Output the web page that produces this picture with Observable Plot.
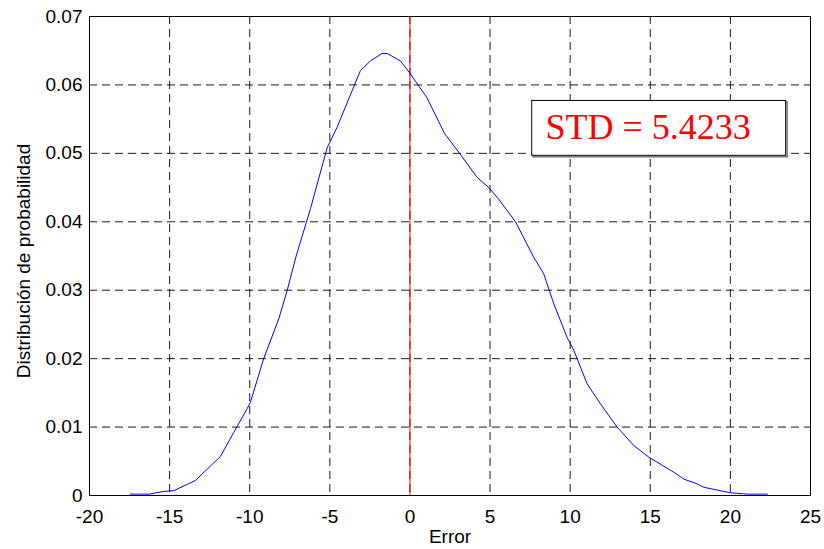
<!DOCTYPE html>
<html>
<head>
<meta charset="utf-8">
<script src="https://cdn.jsdelivr.net/npm/d3@7"></script>
<script src="https://cdn.jsdelivr.net/npm/@observablehq/plot@0.6"></script>
<style>
  html, body { margin: 0; padding: 0; background: white; }
</style>
</head>
<body>
<div id="chart"></div>
<script>
// Error values (x) and probability density (y)
const errorValues = [-17.45, -16.26, -15.37, -14.74, -13.39, -11.83, -11.0, -10.16, -9.96, -9.13, -8.19, -7.67, -7.1, -6.21, -5.17, -4.55, -3.09, -2.47, -1.74, -1.42, -0.59, 0.03, 1.07, 2.16, 3.1, 4.19, 4.92, 5.54, 6.59, 7.73, 8.35, 8.98, 9.81, 10.23, 11.06, 11.89, 12.93, 13.97, 14.91, 16.47, 17.09, 17.93, 18.34, 20.0, 21.05, 22.3];
const density = [0.0002, 0.0002, 0.0006, 0.0007, 0.0022, 0.0057, 0.0092, 0.0127, 0.0136, 0.0200, 0.0258, 0.0299, 0.0350, 0.0419, 0.0508, 0.0538, 0.0621, 0.0635, 0.0646, 0.0646, 0.0635, 0.0616, 0.0581, 0.0529, 0.0500, 0.0465, 0.0450, 0.0433, 0.0400, 0.0348, 0.0324, 0.0280, 0.0231, 0.0212, 0.0163, 0.0134, 0.0100, 0.0073, 0.0056, 0.0034, 0.0024, 0.0017, 0.0012, 0.0004, 0.0002, 0.0002];

const xTicks = [-20, -15, -10, -5, 0, 5, 10, 15, 20, 25];
const yTicks = [0, 0.01, 0.02, 0.03, 0.04, 0.05, 0.06, 0.07];

const referenceError = [0];
const annotationText = ["STD = 5.4233"];
const annotationBox = [{x1: 7.63, x2: 23.48, y1: 0.04964, y2: 0.05766}];
const annotationAnchor = [{x: 8.46, y: 0.0538}];

const xLabel = "Error";
const yLabel = "Distribución de probabilidad";

const data = errorValues.map((x, i) => ({x, y: density[i]}));

const chart = Plot.plot({
  width: 824,
  height: 549,
  marginLeft: 89,
  marginRight: 14,
  marginTop: 16,
  marginBottom: 54,
  style: {fontFamily: "'Liberation Sans', Arial, sans-serif", fontSize: "19px", background: "white", color: "black"},
  x: {domain: [-20, 25]},
  y: {domain: [0, 0.07]},
  marks: [
    Plot.gridX(xTicks.slice(1, -1), {stroke: "#000", strokeOpacity: 0.9, strokeDasharray: "8,5"}),
    Plot.gridY(yTicks.slice(1, -1), {stroke: "#000", strokeOpacity: 0.9, strokeDasharray: "8,5"}),
    Plot.ruleX(referenceError, {stroke: "red", strokeWidth: 1}),
    Plot.line(data, {x: "x", y: "y", stroke: "blue", strokeWidth: 1}),
    Plot.frame({stroke: "black", strokeWidth: 1}),
    Plot.axisX(xTicks, {tickSize: 0, tickPadding: 14, tickFormat: d => String(d), label: null, fontSize: 19}),
    Plot.axisY(yTicks, {tickSize: 0, tickPadding: 7, tickFormat: d => String(d), label: null, fontSize: 19}),
    Plot.text([xLabel], {frameAnchor: "bottom", dy: 47, fontSize: 19}),
    Plot.text([yLabel], {frameAnchor: "left", textAnchor: "middle", rotate: -90, dx: -66, dy: 5, fontSize: 19}),
    Plot.rect(annotationBox, {x1: "x1", x2: "x2", y1: "y1", y2: "y2", fill: "none", stroke: "#777", strokeWidth: 1.5, dx: 1.5, dy: 1.5}),
    Plot.rect(annotationBox, {x1: "x1", x2: "x2", y1: "y1", y2: "y2", fill: "white", stroke: "black", strokeWidth: 1}),
    Plot.text(annotationText, {x: () => annotationAnchor[0].x, y: () => annotationAnchor[0].y, text: d => d, textAnchor: "start", fill: "red", fontSize: 36, fontFamily: "'Liberation Serif', 'Times New Roman', serif"})
  ]
});

document.getElementById("chart").appendChild(chart);
</script>
</body>
</html>
